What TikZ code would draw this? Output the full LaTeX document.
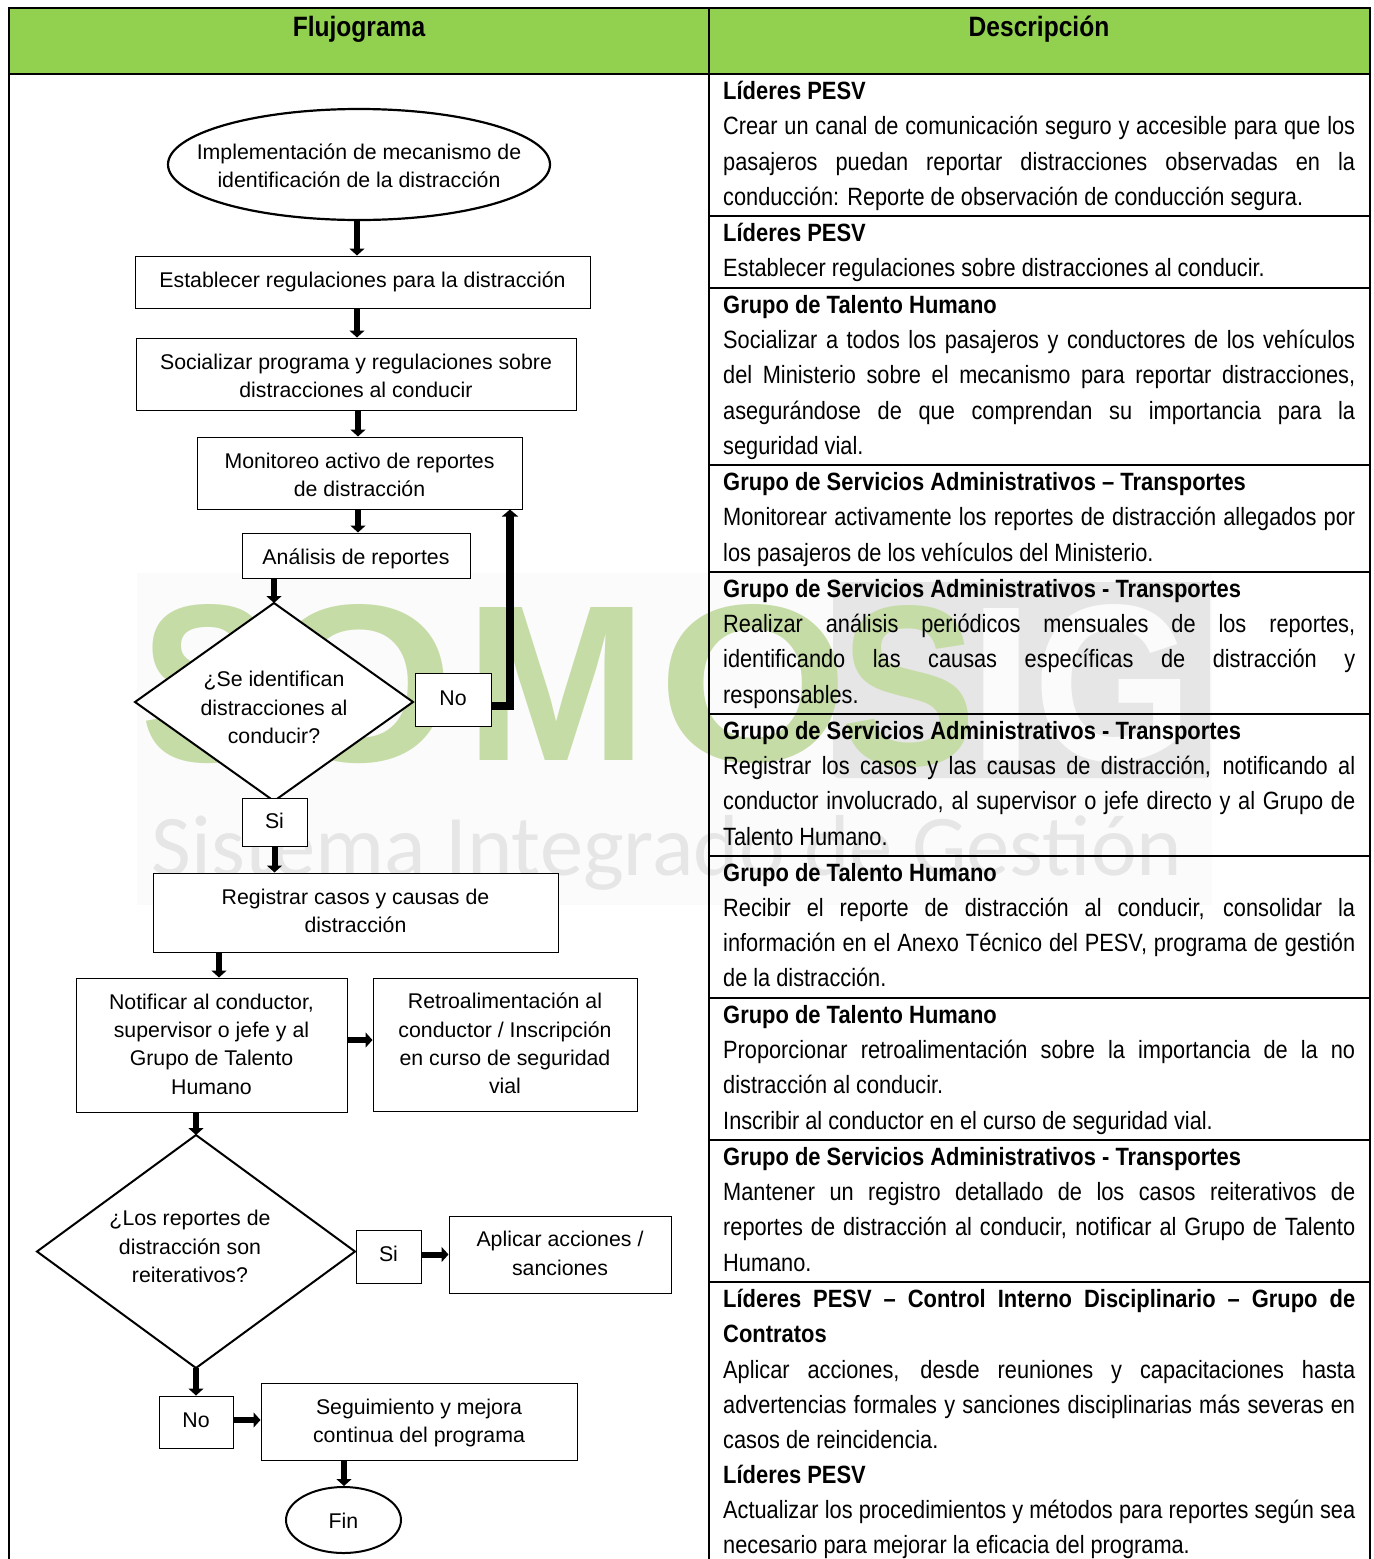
\documentclass[tikz,border=0pt]{standalone}
\usepackage{fontspec}
\usepackage{graphicx}
\usetikzlibrary{arrows.meta,shapes.geometric}
\setmainfont{Liberation Sans}
\newfontfamily\narrowfont[FakeStretch=0.87,BoldFeatures={FakeStretch=0.877}]{Liberation Sans}
\newfontfamily\wmfont{Carlito}
\definecolor{headgreen}{HTML}{92D050}
\definecolor{wmgreen}{HTML}{C6DCA6}
\definecolor{wmgray}{HTML}{E6E6E6}
\definecolor{wmbg}{HTML}{FBFBFB}
\newlength{\rowtextwidth}\setlength{\rowtextwidth}{632pt}
\tikzset{
  x=1pt,y=-1pt,
  flowtext/.style={font=\fontsize{21.3}{28.4}\selectfont,align=center,inner sep=0pt,text=black},
  box/.style={draw=black,line width=1pt,fill=white,rectangle,inner sep=0pt,flowtext},
  oval/.style={draw=black,line width=2.2pt,fill=white,ellipse,inner sep=0pt,flowtext},
  decisionline/.style={draw=black,line width=2pt,fill=white,line join=miter},
  flow/.style={line width=6pt,draw=black,-{Triangle[length=7pt,width=15pt]}},
  flowbig/.style={line width=7.3pt,draw=black,-{Triangle[length=7pt,width=16pt]}},
  tableline/.style={draw=black,line width=1.8pt},
  celltext/.style={anchor=base west,inner sep=0pt,text=black,font=\fontsize{25}{30}\narrowfont},
  headtext/.style={anchor=base,inner sep=0pt,font=\fontsize{28}{32}\narrowfont\bfseries,text=black},
  wmletter/.style={inner sep=0pt,text=wmgreen},
}
\newcommand{\jline}[3]{\node[celltext] (#1) at (723,#2+8) {\makebox[\rowtextwidth][s]{#3}};}
\newcommand{\pline}[3]{\node[celltext] (#1) at (723,#2+8) {#3};}
\newcommand{\wmglyph}[3]{\resizebox{#1pt}{#2pt}{\fontsize{200}{200}\selectfont\bfseries #3}}
\begin{document}
\begin{tikzpicture}
\useasboundingbox (0,0) rectangle (1374,1559);
\fill[white] (0,0) rectangle (1374,1559);
% watermark
\fill[wmbg] (137,573) rectangle (1212,905);
\fill[wmgray,rounded corners=6pt] (833,582) rectangle (1210,778);
\node[inner sep=0pt,text=wmbg] (wmi) at (1001.5,684) {\wmglyph{68}{152}{I}};
\node[inner sep=0pt,text=wmbg] (wmg) at (1113.5,684) {\wmglyph{160}{156}{G}};
\node[wmletter] (wms) at (208.5,684) {\wmglyph{136}{157}{S}};
\node[wmletter] (wmo) at (359.5,684) {\wmglyph{190}{157}{O}};
\node[wmletter] (wmm) at (556.5,684) {\wmglyph{182}{153}{M}};
\node[wmletter] (wmob) at (753,684) {\wmglyph{190}{157}{O}};
\node[wmletter] (wmsb) at (908,687) {\wmglyph{136}{160}{S}};
\node[inner sep=0pt,text=wmgray] (wmsis) at (667,853) {\resizebox{1030pt}{!}{\fontsize{92}{92}\wmfont Sistema Integrado de Gestión}};
% table
\fill[headgreen] (9,8) rectangle (1370,74);
\draw[tableline] (9,1559) -- (9,8) -- (1370,8) -- (1370,1559);
\draw[tableline] (9,74) -- (1370,74);
\draw[tableline] (709,8) -- (709,1559);
\foreach \yy in {216,288,465,572,714,856,998,1140,1282} \draw[tableline] (709,\yy) -- (1370,\yy);
\node[headtext] (h1) at (359,36) {Flujograma};
\node[headtext] (h2) at (1039,36) {Descripción};
% description
\pline{t1}{91}{\textbf{Líderes PESV}}
\jline{t2}{126}{Crear un canal de comunicación seguro y accesible para que los}
\jline{t3}{162}{pasajeros puedan reportar distracciones observadas en la}
\pline{t4}{197}{conducción: Reporte de observación de conducción segura.}
\pline{t5}{233}{\textbf{Líderes PESV}}
\pline{t6}{268}{Establecer regulaciones sobre distracciones al conducir.}
\pline{t7}{305}{\textbf{Grupo de Talento Humano}}
\jline{t8}{340}{Socializar a todos los pasajeros y conductores de los vehículos}
\jline{t9}{375}{del Ministerio sobre el mecanismo para reportar distracciones,}
\jline{t10}{411}{asegurándose de que comprendan su importancia para la}
\pline{t11}{446}{seguridad vial.}
\pline{t12}{482}{\textbf{Grupo de Servicios Administrativos – Transportes}}
\jline{t13}{517}{Monitorear activamente los reportes de distracción allegados por}
\pline{t14}{553}{los pasajeros de los vehículos del Ministerio.}
\pline{t15}{589}{\textbf{Grupo de Servicios Administrativos - Transportes}}
\jline{t16}{624}{Realizar análisis periódicos mensuales de los reportes,}
\jline{t17}{659}{identificando las causas específicas de distracción y}
\pline{t18}{695}{responsables.}
\pline{t19}{731}{\textbf{Grupo de Servicios Administrativos - Transportes}}
\jline{t20}{766}{Registrar los casos y las causas de distracción, notificando al}
\jline{t21}{801}{conductor involucrado, al supervisor o jefe directo y al Grupo de}
\pline{t22}{837}{Talento Humano.}
\pline{t23}{873}{\textbf{Grupo de Talento Humano}}
\jline{t24}{908}{Recibir el reporte de distracción al conducir, consolidar la}
\jline{t25}{943}{información en el Anexo Técnico del PESV, programa de gestión}
\pline{t26}{978}{de la distracción.}
\pline{t27}{1015}{\textbf{Grupo de Talento Humano}}
\jline{t28}{1050}{Proporcionar retroalimentación sobre la importancia de la no}
\pline{t29}{1085}{distracción al conducir.}
\pline{t30}{1121}{Inscribir al conductor en el curso de seguridad vial.}
\pline{t31}{1157}{\textbf{Grupo de Servicios Administrativos - Transportes}}
\jline{t32}{1192}{Mantener un registro detallado de los casos reiterativos de}
\jline{t33}{1227}{reportes de distracción al conducir, notificar al Grupo de Talento}
\pline{t34}{1263}{Humano.}
\jline{t35}{1299}{\textbf{Líderes PESV – Control Interno Disciplinario – Grupo de}}
\pline{t36}{1334}{\textbf{Contratos}}
\jline{t37}{1370}{Aplicar acciones, desde reuniones y capacitaciones hasta}
\jline{t38}{1405}{advertencias formales y sanciones disciplinarias más severas en}
\pline{t39}{1440}{casos de reincidencia.}
\pline{t40}{1475}{\textbf{Líderes PESV}}
\jline{t41}{1510}{Actualizar los procedimientos y métodos para reportes según sea}
\pline{t42}{1545}{necesario para mejorar la eficacia del programa.}
% flow nodes
\node[oval,minimum width=382pt,minimum height=111pt,label={[flowtext,yshift=-1pt]center:{Implementación de mecanismo de\\identificación de la distracción}}] (e1) at (359,164.5) {};
\node[box,minimum width=455pt,minimum height=52pt,label={[flowtext]center:{Establecer regulaciones para la distracción}}] (b1) at (362.5,282) {};
\node[box,minimum width=440pt,minimum height=72pt,label={[flowtext,yshift=-2pt]center:{Socializar programa y regulaciones sobre\\distracciones al conducir}}] (b2) at (356,374) {};
\node[box,minimum width=325pt,minimum height=72pt,label={[flowtext,yshift=-2pt]center:{Monitoreo activo de reportes\\de distracción}}] (b3) at (359.5,473) {};
\node[box,minimum width=228pt,minimum height=45pt,label={[flowtext,yshift=-3pt]center:{Análisis de reportes}}] (b4) at (356,555.5) {};
\draw[decisionline] (274,603) coordinate (d1n) -- (413,702) coordinate (d1e) -- (274,801) coordinate (d1s) -- (135,702) coordinate (d1w) -- cycle;
\node[flowtext] (d1t) at (274,707.5) {¿Se identifican\\distracciones al\\conducir?};
\node[box,minimum width=76pt,minimum height=53pt,label={[flowtext,yshift=1pt]center:{No}}] (no1) at (453,699.5) {};
\node[box,minimum width=65pt,minimum height=48pt,label={[flowtext,yshift=1pt]center:{Si}}] (si1) at (274.5,822) {};
\node[box,minimum width=405pt,minimum height=79pt,label={[flowtext,yshift=1.5pt]center:{Registrar casos y causas de\\distracción}}] (b5) at (355.5,912.5) {};
\node[box,minimum width=271pt,minimum height=134pt,label={[flowtext,yshift=1pt]center:{Notificar al conductor,\\supervisor o jefe y al\\Grupo de Talento\\Humano}}] (b6) at (211.5,1045) {};
\node[box,minimum width=264pt,minimum height=133pt,label={[flowtext,yshift=1pt]center:{Retroalimentación al\\conductor / Inscripción\\en curso de seguridad\\vial}}] (b7) at (505,1044.5) {};
\draw[decisionline] (196,1135) coordinate (d2n) -- (355,1251.5) coordinate (d2e) -- (196,1368) coordinate (d2s) -- (37,1251.5) coordinate (d2w) -- cycle;
\node[flowtext] (d2t) at (190,1246.5) {¿Los reportes de\\distracción son\\reiterativos?};
\node[box,minimum width=65pt,minimum height=53pt,label={[flowtext,yshift=3pt]center:{Si}}] (si2) at (388.5,1256.5) {};
\node[box,minimum width=222pt,minimum height=77pt,label={[flowtext,yshift=1pt]center:{Aplicar acciones /\\sanciones}}] (b8) at (560,1254.5) {};
\node[box,minimum width=74pt,minimum height=52pt,label={[flowtext,yshift=2pt]center:{No}}] (no2) at (196,1422) {};
\node[box,minimum width=316pt,minimum height=77pt,label={[flowtext,yshift=-1.5pt]center:{Seguimiento y mejora\\continua del programa}}] (b9) at (419,1421.5) {};
\node[oval,line width=2pt,minimum width=115pt,minimum height=66pt,label={[flowtext,yshift=-1pt]center:{Fin}}] (fin) at (343.5,1520) {};
% connectors
\draw[flow] ([xshift=-2pt]e1.south) -- ([xshift=-2pt]e1.south |- b1.north);
\draw[flow] ([xshift=-5.5pt]b1.south) -- ([xshift=-5.5pt]b1.south |- b2.north);
\draw[flow] ([xshift=2pt]b2.south) -- ([xshift=2pt]b2.south |- b3.north);
\draw[flow] ([xshift=-1.5pt]b3.south) -- ([xshift=-1.5pt]b3.south |- b4.north);
\draw[flow] (d1n |- b4.south) -- (d1n);
\draw[flow] (si1.south) -- (si1.south |- b5.north);
\draw[flow] ([xshift=-136.5pt]b5.south) -- ([xshift=-136.5pt]b5.south |- b6.north);
\draw[flow] ([yshift=5pt]b6.east) -- ([yshift=5pt]b6.east -| b7.west);
\draw[flow] (b6.south -| d2n) -- (d2n);
\draw[flow] (b8.west -| si2.east) -- (b8.west);
\draw[flow] (d2s) -- (no2.north);
\draw[flow] ([yshift=1.5pt]b9.west -| no2.east) -- ([yshift=1.5pt]b9.west);
\draw[flow] ([xshift=-75pt]b9.south) -- ([xshift=-75pt]b9.south |- fin.north);
\draw[flowbig] ([yshift=-6.5pt]no1.east) -| ([xshift=150.5pt]b3.south);
\end{tikzpicture}
\end{document}
